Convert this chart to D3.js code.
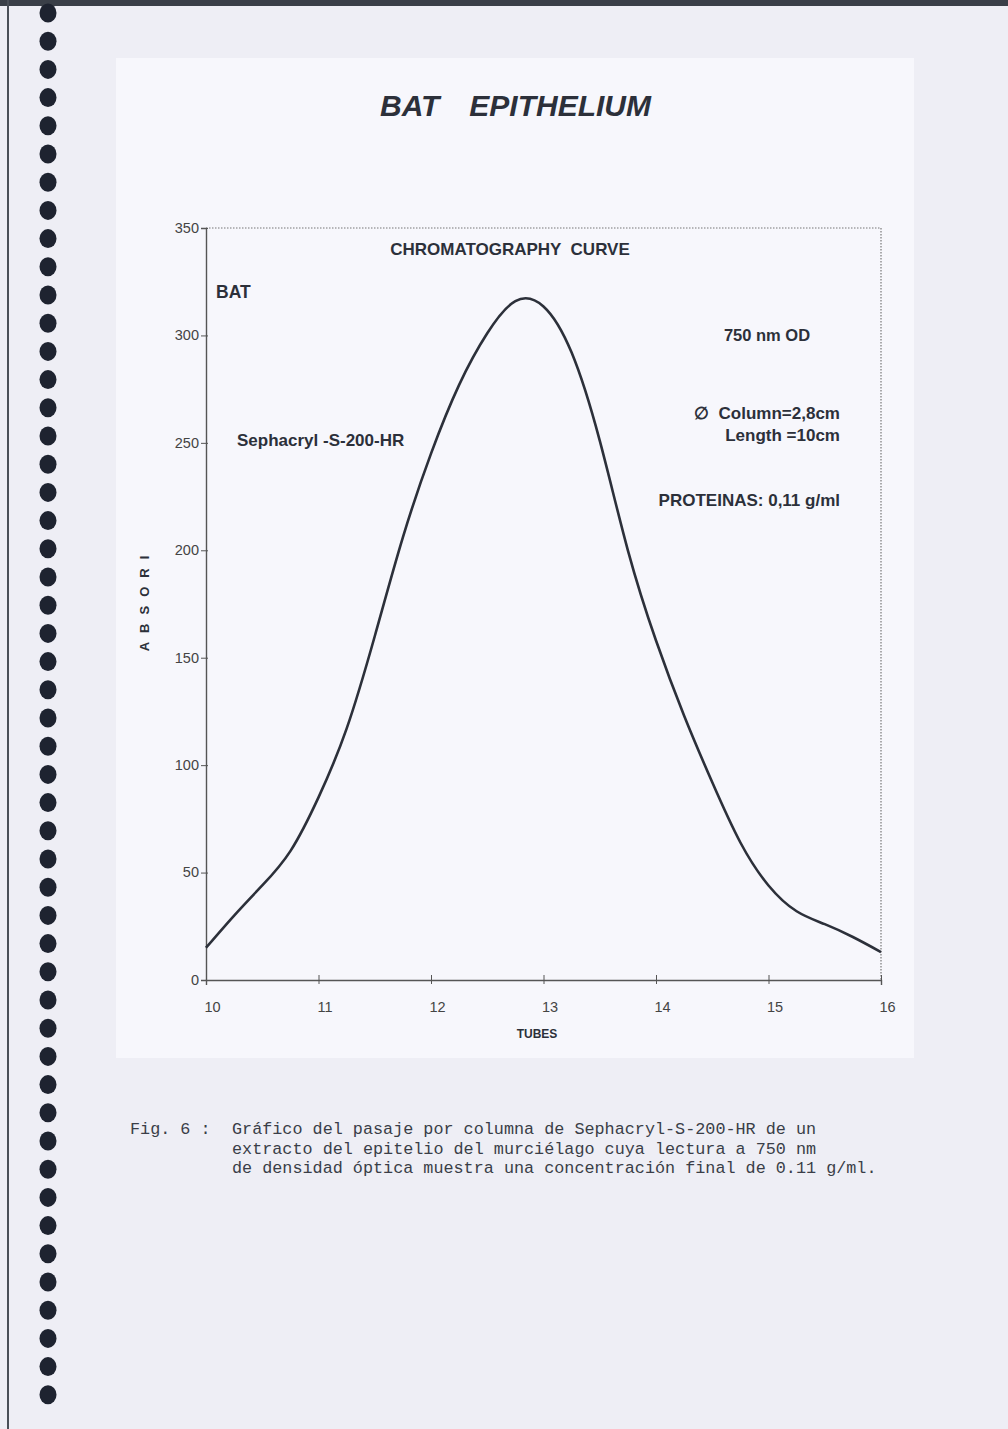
<!DOCTYPE html>
<html>
<head>
<meta charset="utf-8">
<script src="https://cdn.jsdelivr.net/npm/d3@7"></script>
<style>
  body { margin: 0; background: #ececf4; }
  svg { display: block; }
</style>
</head>
<body>
<svg width="1008" height="1429"></svg>
<script>
// tube numbers and absorbance
const tubes = [10, 10.25, 10.5, 10.75, 11, 11.25, 11.5, 11.75, 12, 12.25, 12.5, 12.75, 13,
  13.25, 13.5, 13.75, 14, 14.25, 14.5, 14.75, 15, 15.25, 15.5, 15.75, 16]
const absorbance = [15, 30, 44, 60, 85, 117, 160, 206, 245, 277, 301, 316, 313.5,
  292, 251, 200, 158, 123, 92, 64, 44, 32, 26, 20, 13]

const xTicks = [10, 11, 12, 13, 14, 15, 16]
const yTicks = [0, 50, 100, 150, 200, 250, 300, 350]

const notes = ["750 nm OD", "\u2205  Column=2,8cm", "Length =10cm", "PROTEINAS: 0,11 g/ml"]
const caption = [
  "Gráfico del pasaje por columna de Sephacryl-S-200-HR de un",
  "extracto del epitelio del murciélago cuya lectura a 750 nm",
  "de densidad óptica muestra una concentración final de 0.11 g/ml."
]

const data = tubes.map((t, i) => ({ tube: t, abs: absorbance[i] }))

const svg = d3.select("svg")
const ink = "#2c303a"

// page
svg.append("rect").attr("width", 1008).attr("height", 1429).attr("fill", "#eeeef5")
svg.append("rect").attr("x", 0).attr("y", 0).attr("width", 1008).attr("height", 6).attr("fill", "#3a3f48")
svg.append("rect").attr("x", 7).attr("y", 0).attr("width", 2).attr("height", 1429).attr("fill", "#4a4f58")
svg.append("rect").attr("x", 116).attr("y", 58).attr("width", 798).attr("height", 1000).attr("fill", "#f7f7fc")

// binding holes
svg.append("g").selectAll("ellipse")
  .data(d3.range(50))
  .join("ellipse")
  .attr("cx", 48)
  .attr("cy", (d) => 13 + d * 28.2)
  .attr("rx", 8.5)
  .attr("ry", 9.5)
  .attr("fill", "#1e2330")

const x = d3.scaleLinear().domain([10, 16]).range([206, 881])
const y = d3.scaleLinear().domain([0, 350]).range([980, 228])

// title
const titleFont = (sel) => sel.attr("font-family", "Liberation Sans, Arial")
  .attr("font-weight", "bold").attr("font-style", "italic")
  .attr("font-size", 30).attr("fill", ink)
titleFont(svg.append("text").attr("x", 380).attr("y", 116).text("BAT"))
titleFont(svg.append("text").attr("x", 651).attr("y", 116).attr("text-anchor", "end").text("EPITHELIUM"))

// frame: dotted top and right
svg.append("path")
  .attr("d", `M${x(10)},${y(350)}H${x(16)}V${y(0)}`)
  .attr("fill", "none").attr("stroke", "#777").attr("stroke-width", 1.2)
  .attr("stroke-dasharray", "1.5,1.5")

// axes
const yAxis = svg.append("g").attr("transform", `translate(${x(10)},0)`)
  .call(d3.axisLeft(y).tickValues(yTicks).tickSize(5).tickPadding(2))
const xAxis = svg.append("g").attr("transform", `translate(0,${y(0)})`)
  .call(d3.axisBottom(x).tickValues(xTicks).tickFormat(d3.format("d")).tickSize(5).tickPadding(17))

;[yAxis, xAxis].forEach((g) => {
  g.select(".domain").attr("stroke", "#555").attr("stroke-width", 1.4)
  g.selectAll(".tick line").attr("stroke", "#555")
  g.selectAll(".tick text").attr("fill", "#444")
    .attr("font-family", "Liberation Sans, Arial").attr("font-size", 14.5)
})
yAxis.selectAll(".tick line").attr("x2", 2).attr("x1", -5)
xAxis.selectAll(".tick line").attr("y1", -5).attr("y2", 4)
xAxis.selectAll(".tick text").attr("dx", 6)
yAxis.selectAll(".tick text").attr("dy", "0.3em")

// curve
const line = d3.line()
  .x((d) => x(d.tube))
  .y((d) => y(d.abs))
  .curve(d3.curveNatural)

svg.append("path").datum(data)
  .attr("d", line)
  .attr("fill", "none")
  .attr("stroke", ink)
  .attr("stroke-width", 2.6)

// labels in plot
const bold = (sel) => sel.attr("font-family", "Liberation Sans, Arial")
  .attr("font-weight", "bold").attr("fill", ink)

bold(svg.append("text").attr("x", 510).attr("y", 255).attr("text-anchor", "middle")
  .attr("font-size", 17).attr("xml:space", "preserve").text("CHROMATOGRAPHY  CURVE"))
bold(svg.append("text").attr("x", 216).attr("y", 298).attr("font-size", 17.5).text("BAT"))
bold(svg.append("text").attr("x", 237).attr("y", 446).attr("font-size", 17).text("Sephacryl -S-200-HR"))

bold(svg.append("text").attr("x", 767).attr("y", 341).attr("text-anchor", "middle")
  .attr("font-size", 16.5).text(notes[0]))
bold(svg.append("text").attr("x", 840).attr("y", 419).attr("text-anchor", "end")
  .attr("font-size", 17).attr("xml:space", "preserve").text(notes[1]))
bold(svg.append("text").attr("x", 840).attr("y", 441).attr("text-anchor", "end")
  .attr("font-size", 17).text(notes[2]))
bold(svg.append("text").attr("x", 840).attr("y", 506).attr("text-anchor", "end")
  .attr("font-size", 17).attr("fill", "#3a3e48").text(notes[3]))

// axis titles
bold(svg.append("text").attr("transform", "translate(149,599) rotate(-90)")
  .attr("text-anchor", "middle").attr("font-size", 13)
  .attr("letter-spacing", 9).text("ABSORI"))
bold(svg.append("text").attr("x", 537).attr("y", 1038).attr("text-anchor", "middle")
  .attr("font-size", 12).text("TUBES"))

// caption
const cap = svg.append("g")
  .attr("font-family", "Liberation Mono, DejaVu Sans Mono, monospace")
  .attr("font-size", 16.8).attr("fill", "#3a3e48")
cap.append("text").attr("x", 130).attr("y", 1134).text("Fig. 6 :")
cap.selectAll("text.line").data(caption).join("text")
  .attr("class", "line")
  .attr("x", 232)
  .attr("y", (d, i) => 1134 + i * 19.5)
  .text((d) => d)
</script>
</body>
</html>
